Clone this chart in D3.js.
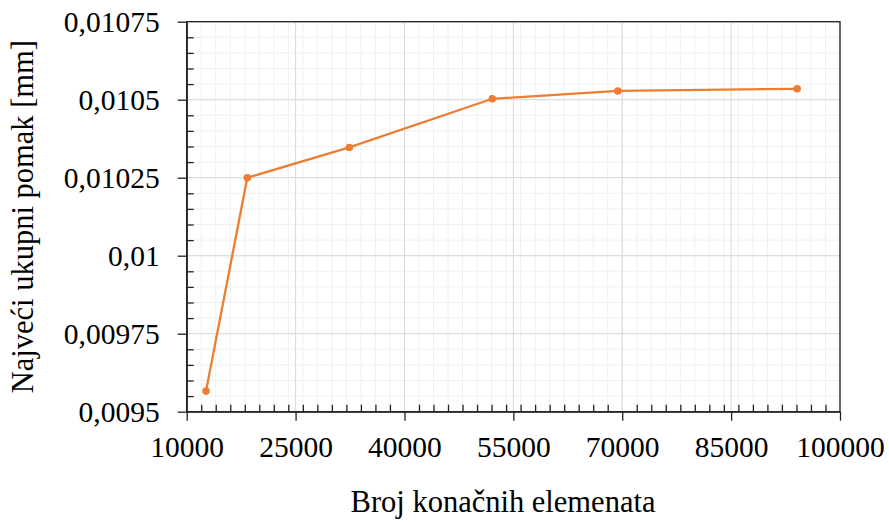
<!DOCTYPE html>
<html><head><meta charset="utf-8">
<script src="https://cdn.jsdelivr.net/npm/d3@7"></script>
<style>html,body{margin:0;padding:0;background:#fff;} svg{display:block;}</style>
</head><body>
<svg id="c" width="889" height="522"></svg>
<script>
const elements = [12660, 18350, 32400, 52100, 69400, 94100];
const displacement = [0.009566, 0.010250, 0.010347, 0.010503, 0.010528, 0.010535];
const xTickValues = [10000, 25000, 40000, 55000, 70000, 85000, 100000];
const xTickLabels = ["10000", "25000", "40000", "55000", "70000", "85000", "100000"];
const yTickValues = [0.0095, 0.00975, 0.01, 0.01025, 0.0105, 0.01075];
const yTickLabels = ["0,0095", "0,00975", "0,01", "0,01025", "0,0105", "0,01075"];
const xTitle = "Broj konačnih elemenata";
const yTitle = "Najveći ukupni pomak [mm]";

const svg = d3.select("#c");
const L = 186.7, R = 840, T = 21.7, B = 411.7;
const x = d3.scaleLinear().domain([10000, 100000]).range([L, R]);
const y = d3.scaleLinear().domain([0.0095, 0.01075]).range([B, T]);
const font = "'Liberation Serif', 'Times New Roman', serif";

const xMinor = d3.range(10000, 100001, 2000);
const yMinor = d3.range(0, 26).map(i => 0.0095 + i * 0.00005);

// minor grid
svg.append("g").selectAll("line").data(xMinor).join("line")
  .attr("x1", d => x(d)).attr("x2", d => x(d)).attr("y1", T).attr("y2", B)
  .attr("stroke", "#f0f0f0").attr("stroke-width", 1);
svg.append("g").selectAll("line").data(yMinor).join("line")
  .attr("y1", d => y(d)).attr("y2", d => y(d)).attr("x1", L).attr("x2", R)
  .attr("stroke", "#f0f0f0").attr("stroke-width", 1);
// major grid
svg.append("g").selectAll("line").data(xTickValues).join("line")
  .attr("x1", d => x(d)).attr("x2", d => x(d)).attr("y1", T).attr("y2", B)
  .attr("stroke", "#d9d9d9").attr("stroke-width", 1);
svg.append("g").selectAll("line").data(yTickValues).join("line")
  .attr("y1", d => y(d)).attr("y2", d => y(d)).attr("x1", L).attr("x2", R)
  .attr("stroke", "#d9d9d9").attr("stroke-width", 1);

// frame
svg.append("rect").attr("x", L).attr("y", T).attr("width", R - L).attr("height", B - T)
  .attr("fill", "none").attr("stroke", "#222").attr("stroke-width", 1.3);

// x axis: major outside, minor inside
const xAxis = d3.axisBottom(x).tickValues(xTickValues).tickFormat((d, i) => xTickLabels[i])
  .tickSizeInner(9).tickSizeOuter(0).tickPadding(15);
const gx = svg.append("g").attr("transform", `translate(0,${B})`).call(xAxis);
gx.select(".domain").attr("stroke", "#222").attr("stroke-width", 1.3);
gx.selectAll(".tick line").attr("stroke", "#222").attr("stroke-width", 1.3);
gx.selectAll("text").attr("font-family", font).attr("font-size", 29.5).attr("fill", "#000");
const gxm = svg.append("g").attr("transform", `translate(0,${B})`)
  .call(d3.axisTop(x).tickValues(xMinor.filter(d => !xTickValues.includes(d))).tickSize(7).tickFormat(""));
gxm.select(".domain").remove();
gxm.selectAll(".tick line").attr("stroke", "#222").attr("stroke-width", 1.3);

// y axis
const yAxis = d3.axisLeft(y).tickValues(yTickValues).tickFormat((d, i) => yTickLabels[i])
  .tickSizeInner(9).tickSizeOuter(0).tickPadding(18);
const gy = svg.append("g").attr("transform", `translate(${L},0)`).call(yAxis);
gy.select(".domain").attr("stroke", "#222").attr("stroke-width", 1.3);
gy.selectAll(".tick line").attr("stroke", "#222").attr("stroke-width", 1.3);
gy.selectAll("text").attr("font-family", font).attr("font-size", 29.5).attr("fill", "#000");
const minorY = yMinor.filter(d => !yTickValues.some(v => Math.abs(v - d) < 1e-9));
const gym = svg.append("g").attr("transform", `translate(${L},0)`)
  .call(d3.axisRight(y).tickValues(minorY).tickSize(7).tickFormat(""));
gym.select(".domain").remove();
gym.selectAll(".tick line").attr("stroke", "#222").attr("stroke-width", 1.3);

// line
const pts = elements.map((e, i) => [e, displacement[i]]);
svg.append("path").datum(pts)
  .attr("d", d3.line().x(d => x(d[0])).y(d => y(d[1])))
  .attr("fill", "none").attr("stroke", "#ED7D31").attr("stroke-width", 2.3);
svg.append("g").selectAll("circle").data(pts).join("circle")
  .attr("cx", d => x(d[0])).attr("cy", d => y(d[1])).attr("r", 3.8).attr("fill", "#ED7D31");

// titles
svg.append("text").attr("x", 503).attr("y", 512).attr("text-anchor", "middle")
  .attr("font-family", font).attr("font-size", 30.5).attr("fill", "#000").text(xTitle);
svg.append("text").attr("transform", `translate(33,${(T + B) / 2}) rotate(-90)`)
  .attr("text-anchor", "middle").attr("font-family", font).attr("font-size", 30.5)
  .attr("fill", "#000").text(yTitle);
</script>
</body></html>
